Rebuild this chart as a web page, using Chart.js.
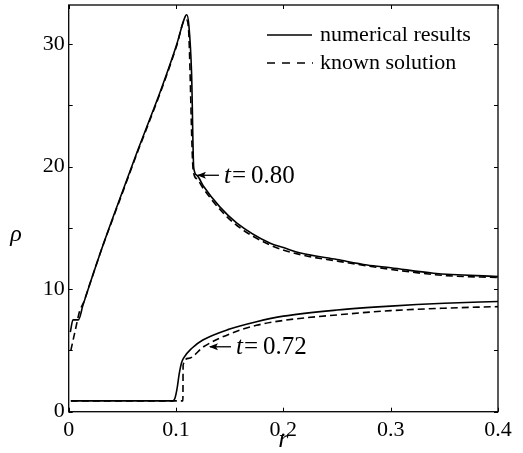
<!DOCTYPE html>
<html>
<head>
<meta charset="utf-8">
<script src="https://cdn.jsdelivr.net/npm/chart.js@4.4.1/dist/chart.umd.min.js"></script>
<style>
  html, body { margin: 0; padding: 0; background: #fff; }
  #wrap { width: 523px; height: 453px; }
</style>
</head>
<body>
<div id="wrap"><canvas id="rho-chart" width="523" height="453"></canvas></div>
<script>
// t = 0.80, numerical results
const rNum80 = [0.0015, 0.004, 0.009, 0.0133, 0.02, 0.0304, 0.046, 0.0646, 0.0721, 0.0852, 0.0914, 0.1007, 0.1085, 0.110, 0.112, 0.1145, 0.1165, 0.1194, 0.1256, 0.141, 0.1567, 0.1878, 0.2, 0.216, 0.25, 0.278, 0.3, 0.34, 0.4];
const rhoNum80 = [6.5, 7.5, 7.5, 8.7, 10.5, 13.2, 17.0, 21.4, 23.1, 26.1, 27.6, 30.0, 32.25, 32.4, 31.5, 27.6, 19.9, 19.3, 18.4, 16.7, 15.4, 13.75, 13.4, 12.95, 12.42, 11.98, 11.75, 11.3, 11.03];
// t = 0.80, known solution
const rKnown80 = [0.002, 0.006, 0.0105, 0.0133, 0.02, 0.0304, 0.046, 0.0646, 0.0721, 0.0852, 0.0914, 0.1007, 0.1085, 0.1095, 0.1115, 0.116, 0.1194, 0.1256, 0.141, 0.1567, 0.1878, 0.216, 0.25, 0.3, 0.35, 0.4];
const rhoKnown80 = [5.0, 6.6, 8.3, 8.8, 10.5, 13.2, 16.9, 21.3, 23.0, 26.0, 27.5, 29.9, 32.0, 32.0, 31.4, 19.7, 19.0, 18.2, 16.5, 15.2, 13.6, 12.82, 12.3, 11.62, 11.12, 10.95];
// t = 0.72, numerical results
const rNum72 = [0.002, 0.097, 0.099, 0.101, 0.103, 0.105, 0.107, 0.115, 0.125, 0.15, 0.175, 0.2, 0.25, 0.3, 0.35, 0.4];
const rhoNum72 = [0.88, 0.88, 1.1, 1.9, 3.1, 3.95, 4.37, 5.2, 5.85, 6.75, 7.35, 7.8, 8.3, 8.62, 8.85, 9.0];
// t = 0.72, known solution
const rKnown72 = [0.002, 0.1064, 0.1066, 0.1116, 0.1256, 0.15, 0.175, 0.2, 0.25, 0.3, 0.35, 0.4];
const rhoKnown72 = [0.88, 0.88, 3.8, 4.35, 5.3, 6.35, 7.05, 7.45, 7.9, 8.25, 8.45, 8.58];

const xTicks = [0, 0.1, 0.2, 0.3, 0.4];
const yTicks = [0, 5, 10, 15, 20, 25, 30];
const legendLabels = ["numerical results", "known solution"];

const serif = "'Liberation Serif', 'DejaVu Serif', serif";

function pts(xs, ys) {
    return xs.map((x, i) => ({ x: x, y: ys[i] }));
}

function lineSet(label, xs, ys, dashed) {
    return {
        label: label,
        data: pts(xs, ys),
        borderColor: '#000',
        borderWidth: 1.6,
        borderDash: dashed ? [7, 4] : [],
        pointRadius: 0,
        fill: false,
        cubicInterpolationMode: 'monotone'
    };
}

// frame, inward ticks, axis titles, legend and arrow labels
const decorations = {
    id: 'decorations',
    afterDraw(chart) {
        const ctx = chart.ctx;
        const a = chart.chartArea;
        const xs = chart.scales.x, ys = chart.scales.y;
        ctx.save();
        ctx.strokeStyle = '#000';
        ctx.lineWidth = 1.3;
        ctx.strokeRect(a.left, a.top, a.right - a.left, a.bottom - a.top);
        ctx.lineWidth = 1;
        ctx.beginPath();
        xTicks.forEach(v => {
            const px = Math.round(xs.getPixelForValue(v)) + 0.5;
            ctx.moveTo(px, a.bottom); ctx.lineTo(px, a.bottom - 4);
            ctx.moveTo(px, a.top); ctx.lineTo(px, a.top + 4);
        });
        yTicks.forEach(v => {
            const py = Math.round(ys.getPixelForValue(v)) + 0.5;
            ctx.moveTo(a.left, py); ctx.lineTo(a.left + 4, py);
            ctx.moveTo(a.right, py); ctx.lineTo(a.right - 4, py);
        });
        ctx.stroke();

        ctx.fillStyle = '#000';
        ctx.textBaseline = 'alphabetic';
        ctx.textAlign = 'center';
        ctx.font = 'italic 26px ' + serif;
        ctx.fillText('r', (a.left + a.right) / 2, 447);
        ctx.font = 'italic 24px ' + serif;
        ctx.fillText('\u03c1', 16, 241);

        // legend
        ctx.textBaseline = 'middle';
        ctx.textAlign = 'left';
        ctx.font = '22px ' + serif;
        ctx.lineWidth = 1.6;
        ctx.beginPath();
        ctx.moveTo(267, 35); ctx.lineTo(312, 35);
        ctx.stroke();
        ctx.setLineDash([8, 7]);
        ctx.beginPath();
        ctx.moveTo(267, 63); ctx.lineTo(313, 63);
        ctx.stroke();
        ctx.setLineDash([]);
        ctx.fillText(legendLabels[0], 320, 35);
        ctx.fillText(legendLabels[1], 320, 63);

        // arrow labels
        function arrowLabel(rv, rhov, value) {
            const tx = xs.getPixelForValue(rv);
            const ty = ys.getPixelForValue(rhov);
            ctx.lineWidth = 1.3;
            ctx.beginPath();
            ctx.moveTo(tx + 1, ty); ctx.lineTo(tx + 22, ty);
            ctx.stroke();
            ctx.beginPath();
            ctx.moveTo(tx, ty);
            ctx.lineTo(tx + 9, ty - 3.5);
            ctx.lineTo(tx + 7, ty);
            ctx.lineTo(tx + 9, ty + 3.5);
            ctx.closePath();
            ctx.fill();
            ctx.font = 'italic 25px ' + serif;
            ctx.fillText('t', tx + 27, ty + 1);
            ctx.font = '25px ' + serif;
            ctx.fillText('=', tx + 35, ty + 1);
            ctx.fillText(value, tx + 54, ty + 1);
        }
        arrowLabel(0.1195, 19.3, '0.80');
        arrowLabel(0.1307, 5.3, '0.72');
        ctx.restore();
    }
};

new Chart(document.getElementById('rho-chart'), {
    type: 'line',
    data: {
        datasets: [
            lineSet('numerical results t=0.80', rNum80, rhoNum80, false),
            lineSet('known solution t=0.80', rKnown80, rhoKnown80, true),
            lineSet('numerical results t=0.72', rNum72, rhoNum72, false),
            lineSet('known solution t=0.72', rKnown72, rhoKnown72, true)
        ]
    },
    options: {
        responsive: false,
        animation: false,
        layout: { padding: { top: 5, right: 25, left: 0, bottom: 0 } },
        plugins: {
            legend: { display: false },
            tooltip: { enabled: false }
        },
        scales: {
            x: {
                type: 'linear',
                min: 0,
                max: 0.4,
                afterBuildTicks: s => { s.ticks = xTicks.map(v => ({ value: v })); },
                afterFit: s => { s.height = 41.3; s.paddingLeft = 0; s.paddingRight = 0; },
                grid: { display: false, drawTicks: false },
                border: { display: false },
                ticks: {
                    autoSkip: false,
                    maxRotation: 0,
                    padding: 5,
                    color: '#000',
                    font: { family: serif, size: 22 },
                    callback: v => String(+v.toFixed(1))
                }
            },
            y: {
                type: 'linear',
                min: 0,
                max: 33.2,
                afterBuildTicks: s => { s.ticks = yTicks.map(v => ({ value: v })); },
                afterFit: s => { s.width = 68.7; s.paddingTop = 0; s.paddingBottom = 0; },
                grid: { display: false, drawTicks: false },
                border: { display: false },
                ticks: {
                    autoSkip: false,
                    padding: 4,
                    color: '#000',
                    font: { family: serif, size: 22 },
                    callback: v => (v % 10 === 0 ? String(v) : '')
                }
            }
        }
    },
    plugins: [decorations]
});
</script>
</body>
</html>
